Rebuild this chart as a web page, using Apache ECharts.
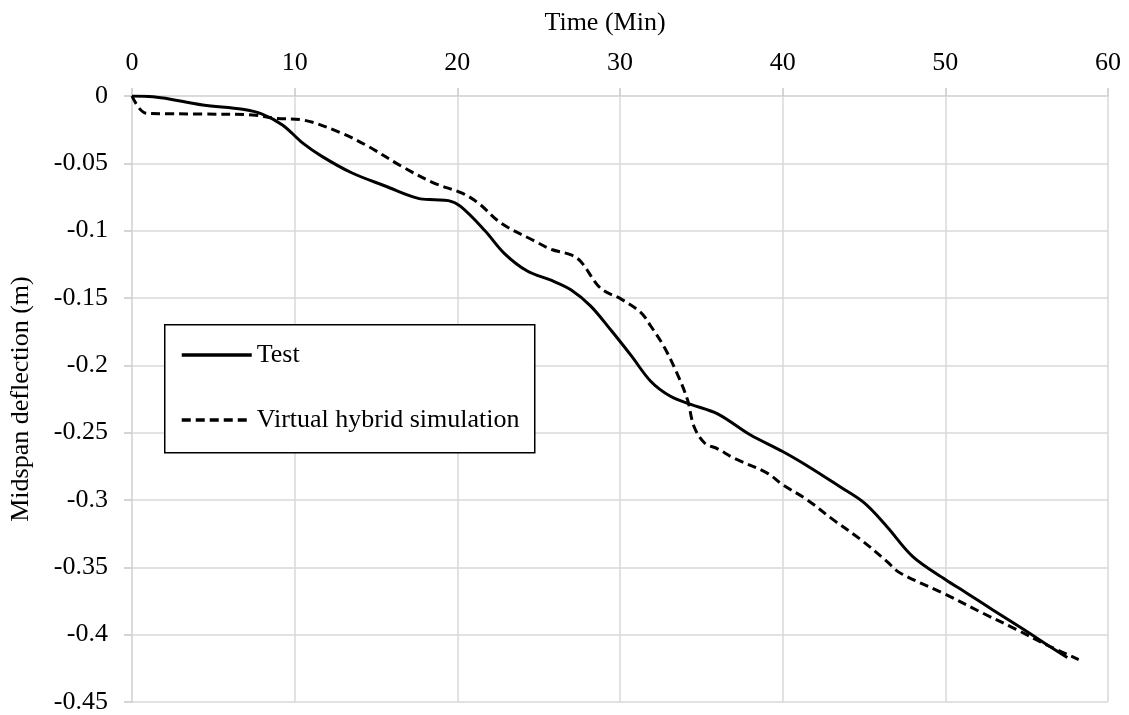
<!DOCTYPE html>
<html><head><meta charset="utf-8">
<script src="https://cdn.jsdelivr.net/npm/echarts@6/dist/echarts.min.js"></script>
<style>html,body{margin:0;padding:0;background:#fff}#c{width:1129px;height:715px}</style>
</head><body><div id="c"></div>
<script>
const testTime = [0,1.3,4.35,6.8,8.0,9.25,10.5,11.7,13.5,15.6,17.6,18.6,19.45,20.2,21.7,22.9,24.3,25.8,27.0,28.2,29.45,30.7,31.9,33.1,34.35,36.0,38.0,40.0,41.7,43.5,45.0,46.4,48.0,50.0,51.3,52.9,54.8,56.4,57.5];
const testDefl = [0,-0.0005,-0.0067,-0.0099,-0.0134,-0.0215,-0.035,-0.045,-0.057,-0.067,-0.076,-0.077,-0.0777,-0.082,-0.100,-0.117,-0.130,-0.137,-0.144,-0.156,-0.174,-0.193,-0.212,-0.223,-0.229,-0.236,-0.2516,-0.264,-0.276,-0.290,-0.302,-0.3196,-0.342,-0.359,-0.369,-0.3815,-0.396,-0.4086,-0.417];
const vhsTime = [0,0.9,4.35,7.4,8.85,10.5,12.9,14.55,16.6,18.6,20.3,21.3,22.7,24.8,25.8,27.0,27.6,28.8,30.1,31.3,31.9,32.7,33.5,34.15,34.55,35.2,36.0,37.0,39.05,40.0,41.5,43.1,44.8,46.4,47.2,50.0,52.3,54.35,56.4,58.2];
const vhsDefl = [0,-0.0129,-0.0134,-0.0141,-0.0166,-0.0178,-0.0277,-0.0376,-0.0524,-0.0648,-0.0722,-0.0796,-0.0945,-0.108,-0.114,-0.118,-0.123,-0.1427,-0.151,-0.161,-0.171,-0.186,-0.2058,-0.2256,-0.2454,-0.2577,-0.262,-0.2689,-0.28,-0.2886,-0.2998,-0.3146,-0.3294,-0.3455,-0.354,-0.370,-0.384,-0.396,-0.4086,-0.4185];
const seriesNames = ['Test','Virtual hybrid simulation'];
const FONT = '"Liberation Serif","Times New Roman",serif';
const zip = (a,b)=>a.map((v,i)=>[v,b[i]]);
const chart = echarts.init(document.getElementById('c'));
const gridC = '#d9d9d9';
chart.setOption({
  animation:false,
  backgroundColor:'#fff',
  grid:{left:129,right:21,top:96,bottom:12},
  graphic:[{type:'rect',left:164,top:324,z:3,
    shape:{width:370,height:128},
    style:{fill:'#fff',stroke:'#000',lineWidth:1.5}}],
  xAxis:{type:'value',position:'top',min:0,max:60,interval:10,
    name:'Time (Min)',nameLocation:'middle',nameGap:60,
    nameTextStyle:{fontFamily:FONT,fontSize:26,color:'#000',padding:[0,30,0,0]},
    axisLine:{show:true,lineStyle:{color:gridC,width:1.5}},
    axisTick:{show:true,length:8,lineStyle:{color:'#c8c8c8',width:1.5}},
    axisLabel:{fontFamily:FONT,fontSize:26,color:'#000',margin:20},
    splitLine:{show:true,lineStyle:{color:gridC,width:1.5}}},
  yAxis:{type:'value',min:-0.45,max:0,interval:0.05,
    name:'Midspan deflection (m)',nameLocation:'middle',nameGap:98,nameRotate:90,
    nameTextStyle:{fontFamily:FONT,fontSize:26,color:'#000'},
    axisLine:{show:true,lineStyle:{color:gridC,width:1.5}},
    axisTick:{show:true,length:8,lineStyle:{color:'#c8c8c8',width:1.5}},
    axisLabel:{fontFamily:FONT,fontSize:26,color:'#000',margin:24,
      formatter:v=>v===0?'0':String(+v.toFixed(2))},
    splitLine:{show:true,lineStyle:{color:gridC,width:1.5}}},
  legend:{orient:'vertical',left:180,top:342,z:5,
    padding:0,itemGap:39,itemWidth:70,itemHeight:14,
    itemStyle:{opacity:0},
    lineStyle:{width:3.5},
    textStyle:{fontFamily:FONT,fontSize:26,color:'#000'},
    data:seriesNames},
  series:[
    {name:seriesNames[0],type:'line',data:zip(testTime,testDefl),smooth:0.35,symbol:'none',
     lineStyle:{color:'#000',width:3,type:'solid'},itemStyle:{color:'#000'}},
    {name:seriesNames[1],type:'line',data:zip(vhsTime,vhsDefl),smooth:0.35,symbol:'none',
     lineStyle:{color:'#000',width:3,type:[9,5]},itemStyle:{color:'#000'}}
  ]
});
</script></body></html>
